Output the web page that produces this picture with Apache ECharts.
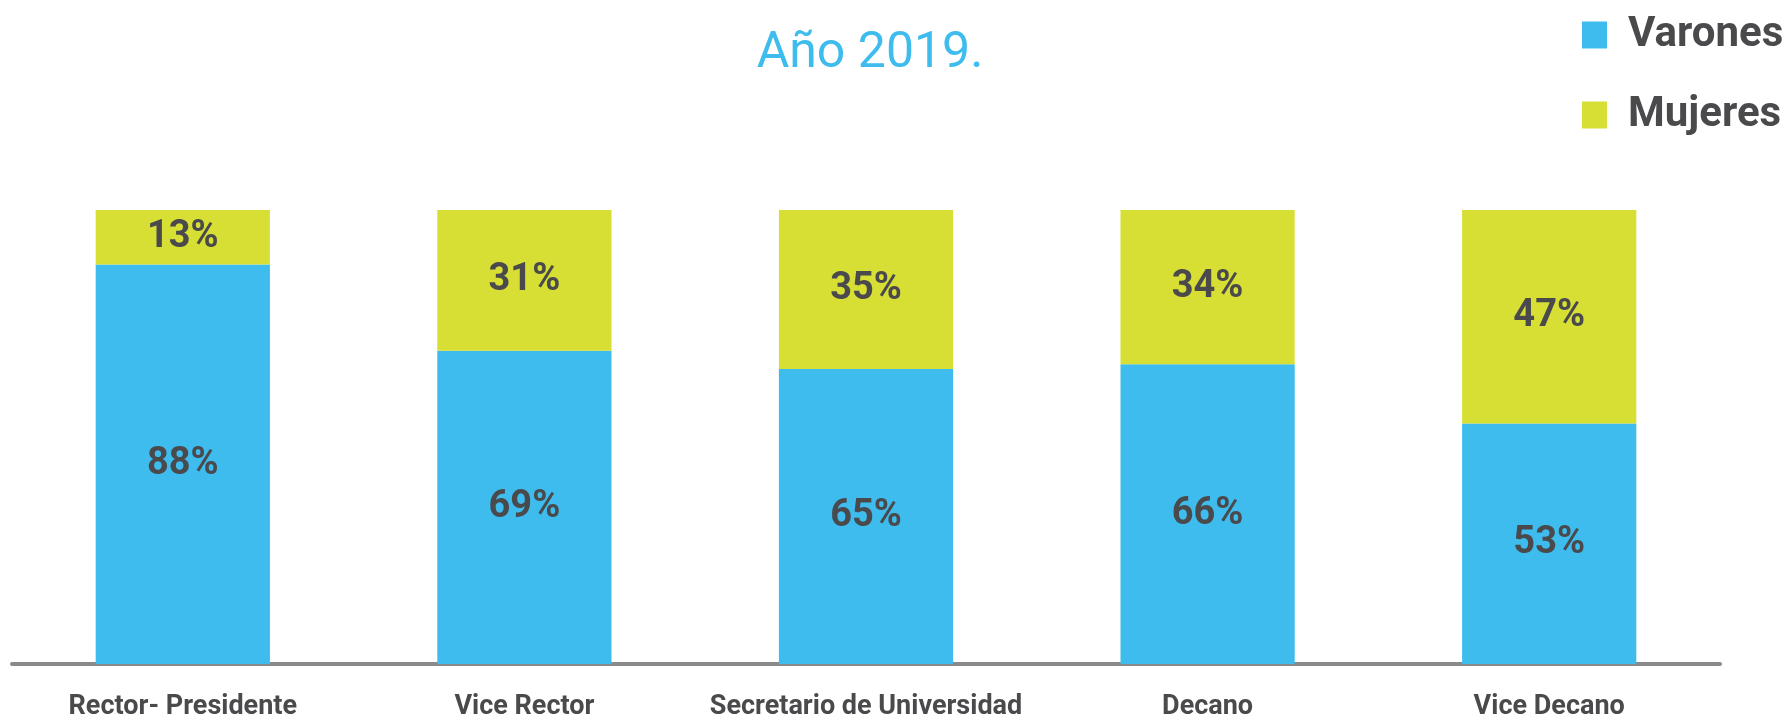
<!DOCTYPE html>
<html>
<head>
<meta charset="utf-8">
<script src="https://cdn.jsdelivr.net/npm/echarts@6/dist/echarts.min.js"></script>
<style>
  html, body { margin: 0; padding: 0; background: #fff; }
  #main { width: 1791px; height: 722px; }
</style>
</head>
<body>
<div id="main"></div>
<script>
// datos
var categorias = ['Rector- Presidente', 'Vice Rector', 'Secretario de Universidad', 'Decano', 'Vice Decano'];
var varones = [88, 69, 65, 66, 53];
var mujeres = [13, 31, 35, 34, 47];

var myChart = echarts.init(document.getElementById('main'));

var etiqueta = {
    show: true,
    position: 'inside',
    formatter: '{c}%',
    color: '#4a4a4d',
    fontFamily: 'Roboto',
    fontWeight: 'bold',
    fontSize: 38
};

myChart.setOption({
    animation: false,
    title: {
        text: 'Año 2019.',
        left: 865,
        textAlign: 'center',
        top: 24,
        textStyle: {
            color: '#3ebcee',
            fontFamily: 'Roboto',
            fontWeight: 'normal',
            fontSize: 50
        }
    },
    legend: {
        orient: 'vertical',
        left: 1577,
        top: 9,
        icon: 'rect',
        itemWidth: 25,
        itemHeight: 27,
        itemGap: 38,
        data: ['Varones', 'Mujeres'],
        textStyle: {
            color: '#4a4a4d',
            fontFamily: 'Roboto',
            fontWeight: 'bold',
            fontSize: 42,
            padding: [0, 0, 0, 16]
        }
    },
    grid: {
        left: 12,
        right: 71,
        top: 210,
        bottom: 58
    },
    xAxis: {
        type: 'category',
        data: categorias,
        axisLine: {
            lineStyle: { color: '#8a8a8a', width: 4 }
        },
        axisTick: { show: false },
        axisLabel: {
            color: '#4a4a4d',
            fontFamily: 'Roboto',
            fontWeight: 'bold',
            fontSize: 27,
            margin: 30,
            interval: 0
        }
    },
    yAxis: {
        type: 'value',
        min: 0,
        max: 100,
        show: false,
        splitLine: { show: false }
    },
    series: [{
        name: 'Varones',
        type: 'bar',
        stack: 'total',
        barWidth: '51%',
        itemStyle: { color: '#3ebcee' },
        label: etiqueta,
        data: varones
    }, {
        name: 'Mujeres',
        type: 'bar',
        stack: 'total',
        itemStyle: { color: '#d7df35' },
        label: etiqueta,
        data: mujeres
    }]
});
</script>
</body>
</html>
